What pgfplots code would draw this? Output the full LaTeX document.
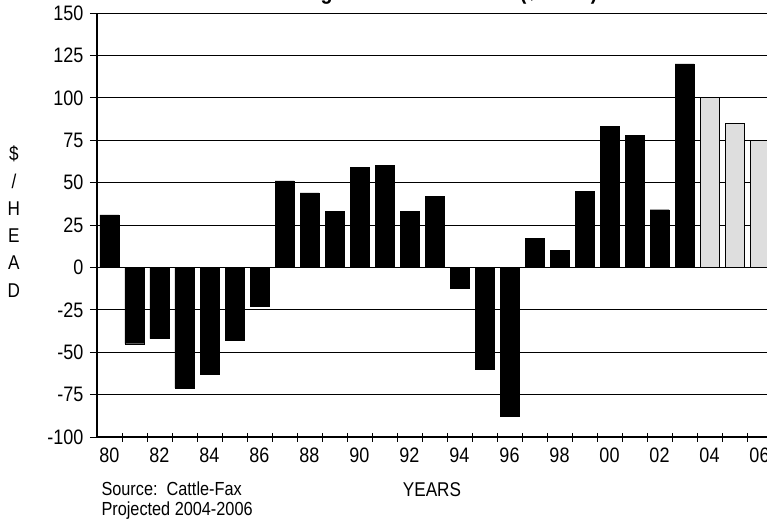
\documentclass[border=0pt]{standalone}
\usepackage{pgfplots}
\usepackage{pgfplotstable}
\pgfplotsset{compat=1.18}
\usepackage{fontspec}
\setmainfont{Liberation Sans}[FakeStretch=0.86]

% returns per head, 1980-2003 actual
\pgfplotstableread{
idx val
0 31
1 -45
2 -42
3 -71
4 -63
5 -43
6 -23
7 51
8 44
9 33
10 59
11 60
12 33
13 42
14 -12
15 -60
16 -88
17 17
18 10
19 45
20 83
21 78
22 34
23 120
}\actual

% projected 2004-2006
\pgfplotstableread{
idx val
24 100
25 85
26 75
}\projected

\begin{document}
\begin{tikzpicture}
\begin{axis}[
    at={(0,0)}, anchor=south west,
    scale only axis,
    width=670bp, height=424bp,
    xmin=-0.5, xmax=26.3,
    ymin=-100, ymax=150,
    clip=false,
    axis lines=left,
    axis line style={-, line width=1.6pt},
    ytick={-100,-75,...,150},
    xtick={0,2,...,26},
    xticklabels={80,82,84,86,88,90,92,94,96,98,00,02,04,06},
    minor xtick={0.5,1.5,...,25.5},
    major x tick style={draw=none},
    tick align=center,
    major tick length=14bp,
    minor tick length=9bp,
    tick style={black, line width=0.8pt},
    ymajorgrids=true,
    major grid style={black, line width=1pt},
    /pgf/number format/assume math mode=true,
    tick label style={font=\fontsize{21}{24}\selectfont},
    yticklabel style={xshift=-3bp},
    title={Average Cow-Calf Returns (\$/Head)},
    every axis title/.style={at={(axis description cs:0.5,1.033)}, anchor=base,
        font=\bfseries\fontsize{23}{26}\selectfont},
    xlabel={YEARS},
    every axis x label/.style={at={(axis description cs:0.5,-0.125)}, anchor=center,
        font=\fontsize{20}{24}\selectfont},
    ylabel={\$\\/\\H\\E\\A\\D},
    every axis y label/.style={at={(axis description cs:-0.124,0.508)}, anchor=center,
        align=center, font=\fontsize{20}{27.4}\selectfont},
]
\addplot[ybar, bar width=19bp, bar shift=0pt, fill=black, draw=black] table[x=idx, y=val] {\actual};
\addplot[ybar, bar width=19bp, bar shift=0pt, fill=black!13, draw=black, line width=0.8pt] table[x=idx, y=val] {\projected};
\node[anchor=base west, font=\fontsize{19}{22}\selectfont] at (axis description cs:0.0015,-0.1368) {Source:~~Cattle-Fax};
\node[anchor=base west, font=\fontsize{19}{22}\selectfont] at (axis description cs:0.0015,-0.184) {Projected 2004-2006};
\end{axis}
\pgfresetboundingbox
\path[use as bounding box] (-97bp,-87bp) rectangle (670bp,437bp);
\end{tikzpicture}
\end{document}
